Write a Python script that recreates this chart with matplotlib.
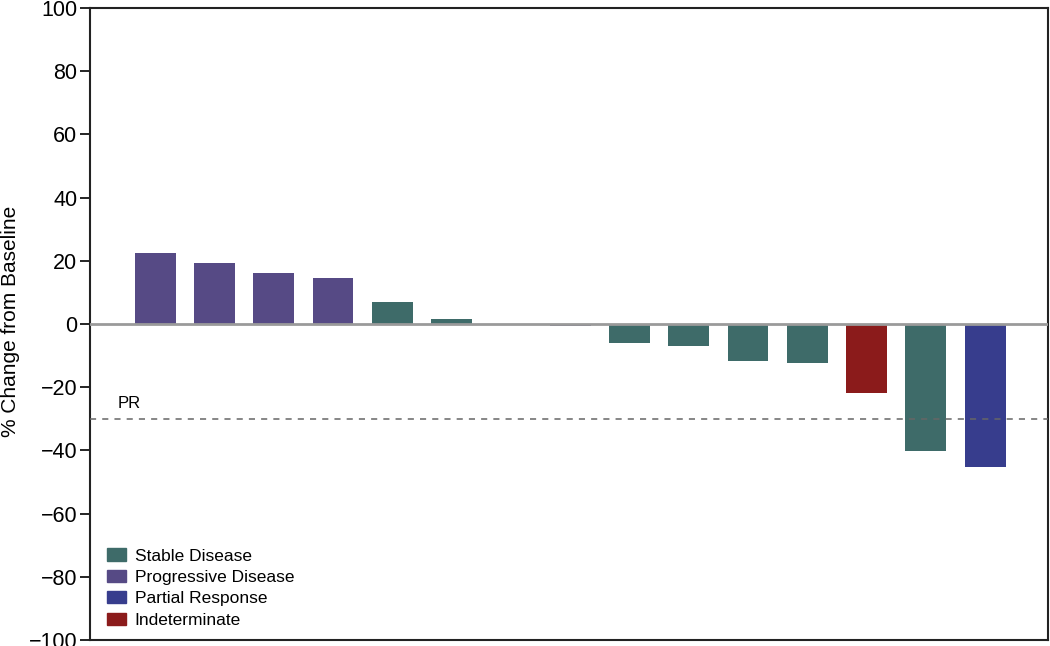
import numpy as np
import matplotlib
matplotlib.use("Agg")
import matplotlib.pyplot as plt
from matplotlib.patches import Patch

plt.rcParams['font.family'] = ['Liberation Sans', 'DejaVu Sans']

# one value per patient, sorted as in the waterfall
change = [22.6, 19.2, 16.0, 14.6, 6.9, 1.7, 0.0, -0.5,
          -6.1, -6.9, -11.8, -12.2, -21.9, -40.1, -45.3]
response = ['PD', 'PD', 'PD', 'PD', 'SD', 'SD', 'SD', 'PD',
            'SD', 'SD', 'SD', 'SD', 'IND', 'SD', 'PR']

labels = {'SD': 'Stable Disease', 'PD': 'Progressive Disease',
          'PR': 'Partial Response', 'IND': 'Indeterminate'}
colors = {'SD': '#3e6b69', 'PD': '#564a85', 'PR': '#373d8d', 'IND': '#8b1b1b'}
pr_cutoff = -30

fig = plt.figure(figsize=(10.5, 6.46), dpi=100)
ax = fig.add_axes([0.0857, 0.0093, 0.9123, 0.9783])

x = np.arange(len(change))
ax.bar(x, change, width=0.69, color=[colors[r] for r in response], zorder=2)
ax.axhline(0, color='#9a9a9a', linewidth=2, zorder=3)
ax.axhline(pr_cutoff, color='#666666', linewidth=1.1, linestyle=(0, (4, 4)), zorder=4)
ax.text(-0.63, -25.3, 'PR', fontsize=12, va='center', ha='left')

ax.set_xlim(-1.1, 15.06)
ax.set_ylim(-100, 100)
ax.set_yticks(np.arange(-100, 101, 20))
ax.set_yticklabels([str(v).replace('-', '\u2212') for v in range(-100, 101, 20)])
ax.set_xticks([])
ax.tick_params(axis='y', labelsize=15.5, length=7, width=1.2, direction='out', pad=2)
ax.set_ylabel('% Change from Baseline', fontsize=15)
ax.yaxis.set_label_coords(-0.073, 0.504)
for s in ax.spines.values():
    s.set_linewidth(1.5)
    s.set_color('#222222')

handles = [Patch(color=colors[k], label=labels[k]) for k in ['SD', 'PD', 'PR', 'IND']]
ax.legend(handles=handles, loc='lower left', bbox_to_anchor=(0.005, 0.0),
          frameon=False, fontsize=12.5, handlelength=1.1, handleheight=0.7,
          handletextpad=0.5, labelspacing=0.36, borderaxespad=0.3)

fig.savefig('out.png', dpi=100)
